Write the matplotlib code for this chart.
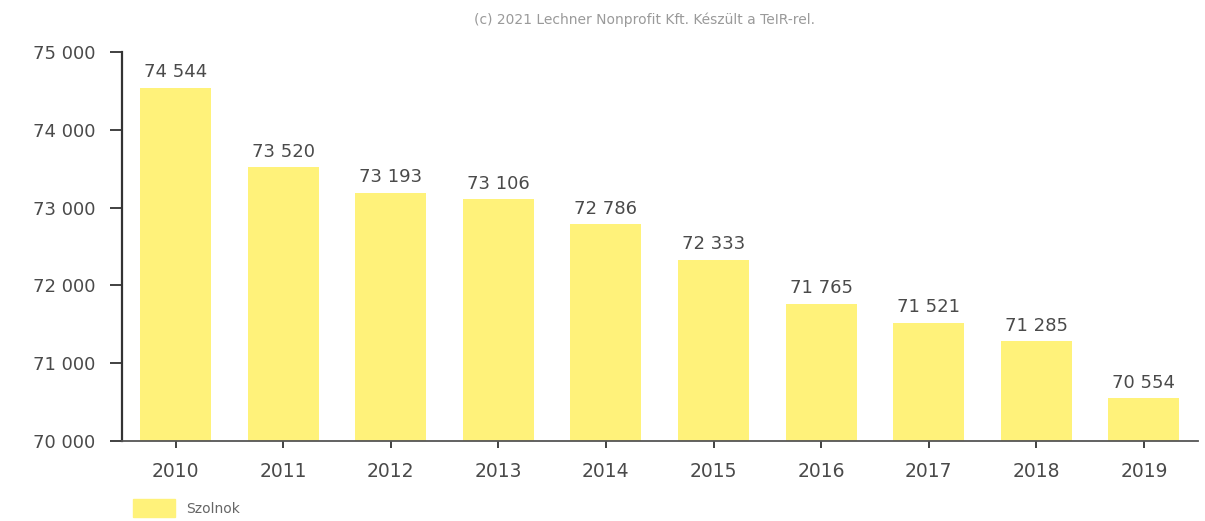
import matplotlib
matplotlib.use('Agg')
import matplotlib.pyplot as plt
import matplotlib.patches as mpatches

years = ['2010', '2011', '2012', '2013', '2014', '2015', '2016', '2017', '2018', '2019']
population = [74544, 73520, 73193, 73106, 72786, 72333, 71765, 71521, 71285, 70554]
y_ticks = [70000, 71000, 72000, 73000, 74000, 75000]
series_name = 'Szolnok'


def fmt(v):
    return '{:,}'.format(v).replace(',', ' ')


bar_color = '#fff27a'
text_color = '#4a4a4a'

fig = plt.figure(figsize=(12.05, 5.21), dpi=100)
ax = fig.add_axes([0.101, 0.1536, 0.893, 0.7464])

x = list(range(len(years)))
ax.bar(x, population, width=0.66, color=bar_color, zorder=2)
ax.set_ylim(70000, 75000)
ax.set_xlim(-0.5, len(years) - 0.5)

for xi, v in zip(x, population):
    ax.text(xi, v + 80, fmt(v), ha='center', va='bottom',
            fontsize=13, color=text_color)

ax.set_yticks(y_ticks)
ax.set_yticklabels([fmt(t) for t in y_ticks], fontsize=13, color=text_color)
ax.set_xticks(x)
ax.set_xticklabels(years, fontsize=13.5, color=text_color)
ax.tick_params(axis='y', length=9, width=1.3, color='#333333', pad=10)
ax.tick_params(axis='x', length=5, width=1.3, color='#333333', pad=10)

for side in ['top', 'right']:
    ax.spines[side].set_visible(False)
ax.spines['left'].set_color('#333333')
ax.spines['left'].set_linewidth(1.6)
ax.spines['bottom'].set_color('#555555')
ax.spines['bottom'].set_linewidth(1.3)

fig.text(0.535, 0.963, '(c) 2021 Lechner Nonprofit Kft. Készült a TeIR-rel.',
         ha='center', va='center', fontsize=10, color='#9a9a9a')

handle = mpatches.Patch(color=bar_color, label=series_name)
fig.legend(handles=[handle], loc='center left', bbox_to_anchor=(0.1, 0.025),
           frameon=False, fontsize=10, handlelength=3.0, handleheight=1.6,
           labelcolor='#666666')

fig.savefig('out.png', dpi=100)
